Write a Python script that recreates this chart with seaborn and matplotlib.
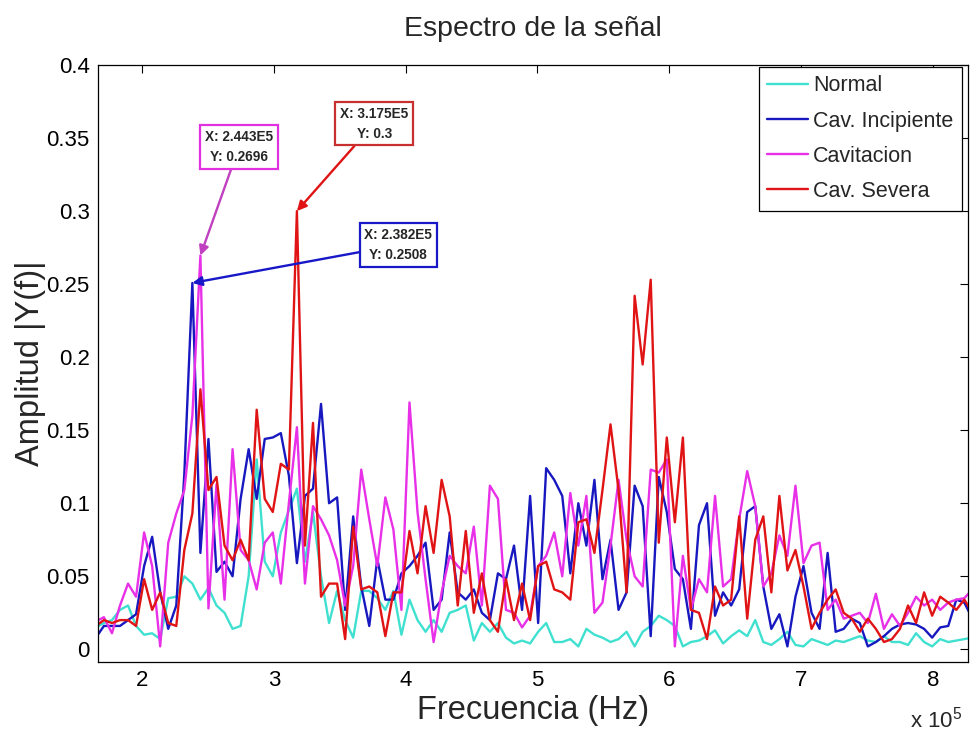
import numpy as np
import pandas as pd
import seaborn as sns
import matplotlib
matplotlib.use("Agg")
import matplotlib.pyplot as plt
from matplotlib.ticker import MultipleLocator, FuncFormatter

# eje de frecuencia (FFT, paso 6.1 kHz)
f_inicio = 1.65e5
f_paso = 6100

normal = [0.015, 0.018, 0.02, 0.027, 0.03, 0.016, 0.01, 0.011, 0.007, 0.035, 0.036, 0.05,
          0.045, 0.034, 0.042, 0.03, 0.025, 0.014, 0.016, 0.05, 0.13, 0.06,
          0.05, 0.08, 0.095, 0.11, 0.06, 0.094, 0.05, 0.018, 0.04, 0.02,
          0.008, 0.04, 0.04, 0.035, 0.027,
          0.04, 0.01, 0.034, 0.02, 0.012, 0.02, 0.012, 0.025, 0.027, 0.03,
          0.006, 0.018, 0.012, 0.018, 0.008, 0.004, 0.006, 0.004, 0.012, 0.018,
          0.005, 0.005, 0.007, 0.002, 0.014, 0.01, 0.008, 0.005, 0.007, 0.012,
          0.002, 0.012, 0.016, 0.023, 0.02,
          0.016, 0.002, 0.005, 0.006, 0.009, 0.013, 0.004, 0.009, 0.013, 0.009,
          0.02, 0.005, 0.003, 0.007, 0.012, 0.003, 0.002, 0.007, 0.005, 0.003,
          0.006, 0.005, 0.007, 0.009, 0.006, 0.005, 0.009, 0.005, 0.005, 0.003,
          0.011, 0.005, 0.002, 0.007, 0.005, 0.006, 0.007, 0.008]
incipiente = [0.008, 0.016, 0.016, 0.016, 0.02, 0.024, 0.057, 0.077, 0.039, 0.014, 0.03, 0.12,
              0.2508, 0.066, 0.144, 0.053, 0.06, 0.05, 0.103, 0.137, 0.103, 0.144,
              0.145, 0.148, 0.119, 0.059, 0.105, 0.11, 0.168, 0.1, 0.104, 0.027,
              0.091, 0.043, 0.016, 0.062, 0.034,
              0.034, 0.052, 0.057, 0.064, 0.073, 0.027, 0.034, 0.08, 0.039, 0.034,
              0.041, 0.025, 0.02, 0.052, 0.048, 0.071, 0.027, 0.105, 0.018, 0.124,
              0.116, 0.105, 0.052, 0.1, 0.071, 0.116, 0.048, 0.075, 0.027, 0.039,
              0.112, 0.098, 0.009, 0.118, 0.094,
              0.055, 0.048, 0.014, 0.085, 0.1, 0.023, 0.039, 0.03, 0.041, 0.094,
              0.098, 0.043, 0.014, 0.024, 0.002, 0.036, 0.057, 0.025, 0.014, 0.066,
              0.012, 0.014, 0.021, 0.018, 0.002, 0.005, 0.009, 0.014, 0.017, 0.018,
              0.017, 0.014, 0.008, 0.015, 0.016, 0.034, 0.032, 0.021]
cavitacion = [0.019, 0.022, 0.011, 0.03, 0.045, 0.036, 0.08, 0.057, 0.002, 0.073, 0.093, 0.109,
              0.16, 0.2696, 0.028, 0.113, 0.034, 0.137, 0.068, 0.061, 0.041, 0.073,
              0.08, 0.045, 0.1, 0.152, 0.045, 0.098, 0.089, 0.078, 0.061, 0.03,
              0.057, 0.123, 0.089, 0.057, 0.104,
              0.082, 0.027, 0.169, 0.094, 0.048, 0.005, 0.039, 0.064, 0.057, 0.052,
              0.084, 0.03, 0.112, 0.103, 0.027, 0.025, 0.015, 0.023, 0.057, 0.064,
              0.08, 0.05, 0.107, 0.071, 0.105, 0.025, 0.032, 0.071, 0.116, 0.075,
              0.05, 0.043, 0.123, 0.121, 0.13,
              0.002, 0.064, 0.027, 0.048, 0.039, 0.105, 0.043, 0.048, 0.089, 0.122,
              0.098, 0.043, 0.052, 0.078, 0.064, 0.112, 0.059, 0.071, 0.073, 0.027,
              0.034, 0.021, 0.023, 0.025, 0.018, 0.038, 0.014, 0.024, 0.016, 0.025,
              0.036, 0.03, 0.034, 0.027, 0.032, 0.034, 0.035, 0.041]
severa = [0.016, 0.02, 0.018, 0.02, 0.02, 0.016, 0.048, 0.027, 0.039, 0.018, 0.016, 0.068,
          0.093, 0.178, 0.109, 0.118, 0.071, 0.061, 0.075, 0.061, 0.164, 0.103,
          0.094, 0.127, 0.123, 0.3, 0.071, 0.155, 0.036, 0.045, 0.045, 0.007,
          0.084, 0.041, 0.043, 0.039, 0.009,
          0.039, 0.039, 0.081, 0.052, 0.098, 0.066, 0.116, 0.091, 0.03, 0.081,
          0.025, 0.052, 0.02, 0.012, 0.048, 0.02, 0.045, 0.02, 0.057, 0.06,
          0.041, 0.039, 0.034, 0.087, 0.089, 0.066, 0.109, 0.154, 0.109, 0.039,
          0.242, 0.195, 0.253, 0.073, 0.145,
          0.087, 0.145, 0.027, 0.025, 0.007, 0.043, 0.03, 0.034, 0.091, 0.021,
          0.075, 0.091, 0.039, 0.105, 0.054, 0.068, 0.043, 0.014, 0.025, 0.034,
          0.041, 0.025, 0.021, 0.012, 0.021, 0.014, 0.005, 0.007, 0.014, 0.03,
          0.018, 0.039, 0.023, 0.036, 0.032, 0.027, 0.034, 0.025]

nombres = ["Normal", "Cav. Incipiente", "Cavitacion", "Cav. Severa"]
colores = ["#40e0d0", "#1818c0", "#e830e8", "#e01414"]

freq = f_inicio + f_paso * np.arange(len(normal))
series = [normal, incipiente, cavitacion, severa]
df = pd.concat([pd.DataFrame({"freq": freq, "amp": s, "serie": n})
                for s, n in zip(series, nombres)], ignore_index=True)

sns.set_style("white")
plt.rcParams["font.family"] = ["Liberation Sans", "DejaVu Sans"]
plt.rcParams["mathtext.fontset"] = "custom"
plt.rcParams["mathtext.rm"] = "Liberation Sans"

fig = plt.figure(figsize=(9.72, 7.36), dpi=100)
ax = fig.add_axes([0.1008, 0.1005, 0.8951, 0.8112])

sns.lineplot(data=df, x="freq", y="amp", hue="serie", hue_order=nombres,
             palette=colores, linewidth=1.7, estimator=None, sort=False, ax=ax)

ax.set_xlim(1.666e5, 8.266e5)
ax.set_ylim(-0.0087, 0.4)
ax.xaxis.set_major_locator(MultipleLocator(1e5))
ax.xaxis.set_major_formatter(FuncFormatter(lambda v, p: f"{v/1e5:g}"))
ax.yaxis.set_major_locator(MultipleLocator(0.05))
ax.yaxis.set_major_formatter(FuncFormatter(lambda v, p: f"{v:g}"))
ax.tick_params(direction="in", length=6, width=0.8, top=True, right=True,
               labelsize=16, pad=6, colors="black")
for s in ax.spines.values():
    s.set_color("black")
    s.set_linewidth(0.9)

ax.set_title("Espectro de la señal", fontsize=20.5, pad=21)
ax.set_xlabel("Frecuencia (Hz)", fontsize=23.5)
ax.xaxis.set_label_coords(0.5, -0.055)
ax.set_ylabel("Amplitud |Y(f)|", fontsize=23.5)
ax.yaxis.set_label_coords(-0.06, 0.5)
fig.text(0.99, 0.012, r"x 10$^5$", ha="right", va="baseline", fontsize=16)

h, l = ax.get_legend_handles_labels()
leg = ax.legend(h, l, loc="upper right", bbox_to_anchor=(0.993, 0.997),
                borderaxespad=0, frameon=True, fancybox=False, framealpha=1,
                edgecolor="black", handlelength=1.9, handletextpad=0.23,
                labelspacing=0.66, borderpad=0.4, fontsize=15.5)
leg.get_frame().set_linewidth(0.9)

# cuadros de datos (data tips) sobre los picos
tips = [(incipiente, "#1818c8", "#1818c8", (206, 38)),
        (cavitacion, "#e030e0", "#c040c0", (38.6, 108.5)),
        (severa, "#c83030", "#e01414", (77.3, 87.5))]
for s, borde, flecha, off in tips:
    i = int(np.argmax(s))
    ax.annotate(f"X: {freq[i]/1e5:.4g}E5\nY: {s[i]:.4g}",
                xy=(freq[i], s[i]), xytext=off, textcoords="offset pixels",
                ha="center", va="center", multialignment="center",
                fontsize=9.8, fontweight="bold", linespacing=1.55,
                bbox=dict(boxstyle="square,pad=0.35", fc="white", ec=borde, lw=1.6),
                arrowprops=dict(arrowstyle="-|>", color=flecha, lw=1.7,
                                mutation_scale=14, shrinkA=0, shrinkB=0))

fig.savefig("out.png", dpi=100)
